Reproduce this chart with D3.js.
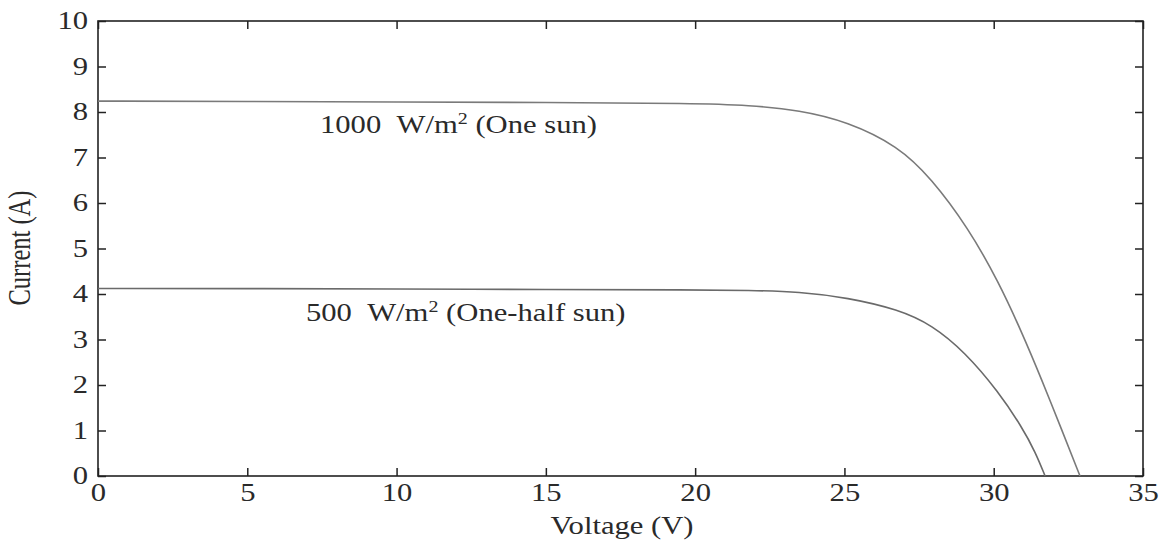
<!DOCTYPE html>
<html>
<head>
<meta charset="utf-8">
<script src="https://d3js.org/d3.v7.min.js"></script>
<style>
  body { margin: 0; background: #fff; }
  svg { display: block; }
  text { font-family: "Liberation Serif", "Times New Roman", serif; fill: #2a2a2a; }
</style>
</head>
<body>
<div class="chart"></div>
<script>
// I-V curves
var volts1000 = [0, 5, 10, 15, 20, 21.8, 23.5, 25.1, 26.8, 27.9, 29.15, 30.16, 30.94, 31.6, 32.27, 32.89];
var amps1000  = [8.24, 8.23, 8.22, 8.21, 8.19, 8.15, 8.04, 7.79, 7.25, 6.55, 5.45, 4.27, 3.16, 2.13, 1.03, 0];

var volts500 = [0, 5, 10, 15, 20, 21.8, 23.5, 25.1, 26.81, 27.93, 29.04, 30.16, 30.94, 31.4, 31.72];
var amps500  = [4.12, 4.12, 4.11, 4.10, 4.09, 4.08, 4.05, 3.92, 3.66, 3.32, 2.72, 1.85, 1.08, 0.52, 0];

var xTicks = [0, 5, 10, 15, 20, 25, 30, 35];
var yTicks = [0, 1, 2, 3, 4, 5, 6, 7, 8, 9, 10];

var margin = {top: 21, right: 26, bottom: 67, left: 98},
  width = 1169 - margin.left - margin.right,
  height = 543 - margin.top - margin.bottom;

var stretch = 1.25; // picture text is wider than normal

var svg = d3.select(".chart")
  .append("svg")
    .attr("width", 1169)
    .attr("height", 543)
  .append("g")
    .attr("transform", "translate(" + margin.left + "," + margin.top + ")");

var x = d3.scaleLinear().domain([0, 35]).range([0, width]);
var y = d3.scaleLinear().domain([0, 10]).range([height, 0]);

// axes, ticks point inward
function styleAxis(g) {
  g.select(".domain").remove();
  g.selectAll(".tick line").attr("stroke", "#222").attr("stroke-width", 1.5);
}

svg.append("g")
  .attr("transform", "translate(0," + height + ")")
  .call(d3.axisBottom(x).tickValues(xTicks).tickSizeInner(-8).tickSizeOuter(0).tickPadding(8))
  .call(styleAxis)
  .selectAll("text")
    .attr("font-size", 24.5)
    .attr("dy", "0.71em")
    .attr("y", 8)
    .attr("transform", "scale(" + stretch + ",1)")
    .style("font-family", "Liberation Serif")
    .attr("fill", "#2a2a2a");

svg.append("g")
  .call(d3.axisLeft(y).tickValues(yTicks).tickSizeInner(-8).tickSizeOuter(0))
  .call(styleAxis)
  .selectAll("text")
    .attr("font-size", 24.5)
    .attr("x", -8)
    .attr("transform", "scale(" + stretch + ",1)")
    .style("font-family", "Liberation Serif")
    .attr("fill", "#2a2a2a");

svg.append("g")
  .call(d3.axisTop(x).tickValues(xTicks).tickSizeInner(-8).tickSizeOuter(0).tickFormat(""))
  .call(styleAxis);

svg.append("g")
  .attr("transform", "translate(" + width + ",0)")
  .call(d3.axisRight(y).tickValues(yTicks).tickSizeInner(-8).tickSizeOuter(0).tickFormat(""))
  .call(styleAxis);

// frame
svg.append("rect")
  .attr("x", 0).attr("y", 0)
  .attr("width", width).attr("height", height)
  .attr("fill", "none")
  .attr("stroke", "#222")
  .attr("stroke-width", 1.6);

// curves
var line = d3.line()
  .x(function(d) { return x(d[0]); })
  .y(function(d) { return y(d[1]); })
  .curve(d3.curveBasis);

var series = [
  {v: volts1000, a: amps1000, color: "#7a7a7a"},
  {v: volts500, a: amps500, color: "#6a6a6a"}
];

svg.selectAll(".curve")
  .data(series)
  .enter()
  .append("path")
    .attr("class", "curve")
    .attr("fill", "none")
    .attr("stroke", function(d) { return d.color; })
    .attr("stroke-width", 1.6)
    .attr("d", function(d) { return line(d.v.map(function(v, i) { return [v, d.a[i]]; })); });

// curve labels
function curveLabel(px, py, lead, rest) {
  var t = svg.append("g")
    .attr("transform", "translate(" + px + "," + py + ") scale(" + stretch + ",1)")
    .append("text")
      .attr("font-size", 24.5);
  t.append("tspan").text(lead + "\u00a0\u00a0W/m");
  t.append("tspan").attr("font-size", 16).attr("dy", -9).text("2");
  t.append("tspan").attr("dy", 9).text(" " + rest);
}
curveLabel(320 - margin.left, 133 - margin.top, "1000", "(One sun)");
curveLabel(306 - margin.left, 321 - margin.top, "500", "(One-half sun)");

// axis titles
svg.append("g")
  .attr("transform", "translate(" + (622 - margin.left) + "," + (534 - margin.top) + ") scale(" + stretch + ",1)")
  .append("text")
    .attr("text-anchor", "middle")
    .attr("font-size", 24.5)
    .text("Voltage (V)");

svg.append("g")
  .attr("transform", "translate(" + (30 - margin.left) + "," + (248 - margin.top) + ") scale(" + stretch + ",1) rotate(-90)")
  .append("text")
    .attr("text-anchor", "middle")
    .attr("font-size", 24.5)
    .text("Current (A)");
</script>
</body>
</html>
